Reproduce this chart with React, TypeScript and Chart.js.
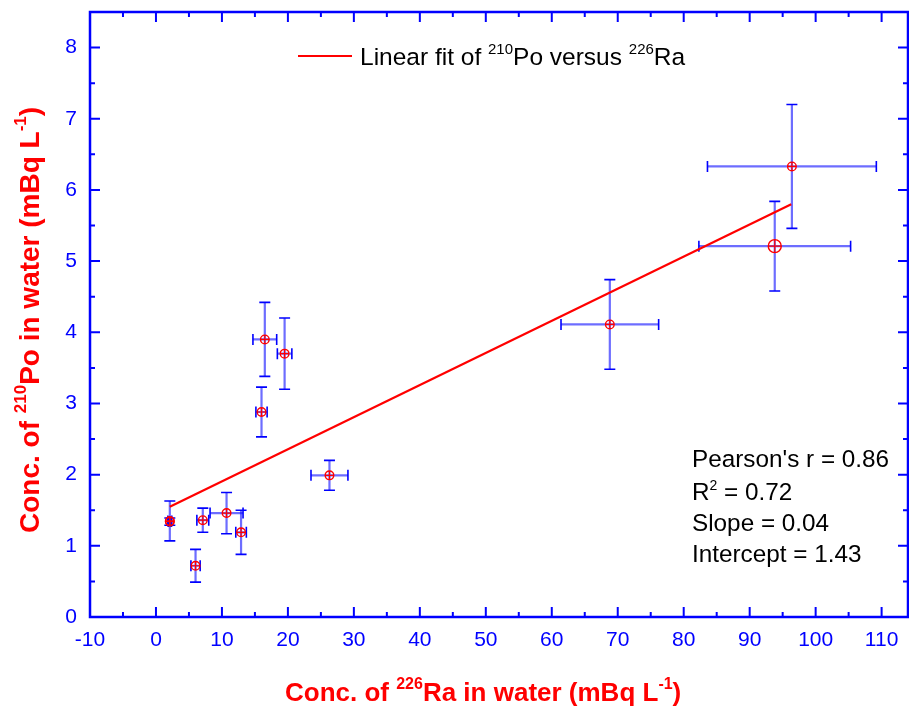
import { useEffect, useRef } from "react";
import { Chart, registerables } from "chart.js";

Chart.register(...registerables);

// ---- data ----
const raConc = [2.1, 2.1, 6.0, 7.1, 10.7, 12.9, 16.0, 16.5, 19.5, 26.3, 68.8, 93.8, 96.4];
const poConc = [1.35, 1.34, 0.72, 1.36, 1.46, 1.19, 2.88, 3.9, 3.7, 1.99, 4.11, 5.21, 6.33];
const raErr = [0.3, 0.2, 0.7, 0.9, 2.5, 0.8, 0.85, 1.8, 1.1, 2.8, 7.4, 11.5, 12.8];
const poErr = [0.28, 0.05, 0.23, 0.17, 0.29, 0.31, 0.35, 0.52, 0.5, 0.21, 0.63, 0.63, 0.87];
const markerRadius = [4.3, 4.3, 4.3, 4.3, 4.3, 4.3, 4.3, 4.3, 4.3, 4.3, 4.3, 6.5, 4.3];
const fitRa = [2.1, 96.3];
const fitPo = [1.55, 5.8];
const xTickValues = [-10, 0, 10, 20, 30, 40, 50, 60, 70, 80, 90, 100, 110];
const yTickValues = [0, 1, 2, 3, 4, 5, 6, 7, 8];
const xMinorValues = [-5, 5, 15, 25, 35, 45, 55, 65, 75, 85, 95, 105];
const yMinorValues = [0.5, 1.5, 2.5, 3.5, 4.5, 5.5, 6.5, 7.5];

type Part = { t: string; sup?: boolean };
const legendText: Part[] = [
  { t: "Linear fit of " }, { t: "210", sup: true }, { t: "Po versus " }, { t: "226", sup: true }, { t: "Ra" },
];
const xTitle: Part[] = [
  { t: "Conc. of " }, { t: "226", sup: true }, { t: "Ra in water (mBq L" }, { t: "-1", sup: true }, { t: ")" },
];
const yTitle: Part[] = [
  { t: "Conc. of " }, { t: "210", sup: true }, { t: "Po in water (mBq L" }, { t: "-1", sup: true }, { t: ")" },
];
const statLines: Part[][] = [
  [{ t: "Pearson's r = 0.86" }],
  [{ t: "R" }, { t: "2", sup: true }, { t: " = 0.72" }],
  [{ t: "Slope = 0.04" }],
  [{ t: "Intercept = 1.43" }],
];

const FONT = "'Liberation Sans', Arial, sans-serif";
const BLUE = "#0000ff";

function drawRich(
  ctx: CanvasRenderingContext2D, parts: Part[], x: number, y: number,
  font: string, supFont: string, supRise: number, color: string
) {
  ctx.fillStyle = color;
  ctx.textBaseline = "alphabetic";
  ctx.textAlign = "left";
  let cx = x;
  for (const p of parts) {
    ctx.font = p.sup ? supFont : font;
    ctx.fillText(p.t, cx, p.sup ? y - supRise : y);
    cx += ctx.measureText(p.t).width;
  }
}

const decor = {
  id: "decor",
  beforeDatasetsDraw(chart: any) {
    const ctx: CanvasRenderingContext2D = chart.ctx;
    const xs = chart.scales.x;
    const ys = chart.scales.y;
    ctx.save();
    for (let i = 0; i < raConc.length; i++) {
      const px = xs.getPixelForValue(raConc[i]);
      const py = ys.getPixelForValue(poConc[i]);
      const x1 = xs.getPixelForValue(raConc[i] - raErr[i]);
      const x2 = xs.getPixelForValue(raConc[i] + raErr[i]);
      const y1 = ys.getPixelForValue(poConc[i] - poErr[i]);
      const y2 = ys.getPixelForValue(poConc[i] + poErr[i]);
      ctx.strokeStyle = "rgba(20,20,255,0.62)";
      ctx.lineWidth = 2.2;
      ctx.beginPath();
      ctx.moveTo(x1, py); ctx.lineTo(x2, py);
      ctx.moveTo(px, y1); ctx.lineTo(px, y2);
      ctx.stroke();
      ctx.strokeStyle = BLUE;
      ctx.lineWidth = 1.6;
      const c = 5.5;
      ctx.beginPath();
      ctx.moveTo(x1, py - c); ctx.lineTo(x1, py + c);
      ctx.moveTo(x2, py - c); ctx.lineTo(x2, py + c);
      ctx.moveTo(px - c, y1); ctx.lineTo(px + c, y1);
      ctx.moveTo(px - c, y2); ctx.lineTo(px + c, y2);
      ctx.stroke();
    }
    ctx.restore();
  },
  afterDraw(chart: any) {
    const ctx: CanvasRenderingContext2D = chart.ctx;
    const xs = chart.scales.x;
    const ys = chart.scales.y;
    const a = chart.chartArea;
    ctx.save();
    // frame
    ctx.strokeStyle = BLUE;
    ctx.lineWidth = 2.5;
    ctx.strokeRect(a.left, a.top, a.right - a.left, a.bottom - a.top);
    ctx.lineWidth = 2;
    ctx.beginPath();
    const major = 10, minor = 5;
    for (const v of xTickValues) {
      const p = xs.getPixelForValue(v);
      ctx.moveTo(p, a.bottom); ctx.lineTo(p, a.bottom - major);
      ctx.moveTo(p, a.top); ctx.lineTo(p, a.top + major);
    }
    for (const v of xMinorValues) {
      const p = xs.getPixelForValue(v);
      ctx.moveTo(p, a.bottom); ctx.lineTo(p, a.bottom - minor);
      ctx.moveTo(p, a.top); ctx.lineTo(p, a.top + minor);
    }
    for (const v of yTickValues) {
      const p = ys.getPixelForValue(v);
      ctx.moveTo(a.left, p); ctx.lineTo(a.left + major, p);
      ctx.moveTo(a.right, p); ctx.lineTo(a.right - major, p);
    }
    for (const v of yMinorValues) {
      const p = ys.getPixelForValue(v);
      ctx.moveTo(a.left, p); ctx.lineTo(a.left + minor, p);
      ctx.moveTo(a.right, p); ctx.lineTo(a.right - minor, p);
    }
    ctx.stroke();

    // legend
    ctx.strokeStyle = "#ff0000";
    ctx.lineWidth = 2;
    ctx.beginPath();
    ctx.moveTo(298, 56); ctx.lineTo(352, 56);
    ctx.stroke();
    drawRich(ctx, legendText, 360, 65, `24.5px ${FONT}`, `15px ${FONT}`, 11, "#000");

    // stats
    const statY = [467, 500, 531, 562];
    statLines.forEach((ln, i) => {
      drawRich(ctx, ln, 692, statY[i], `24.3px ${FONT}`, `14px ${FONT}`, 10, "#000");
    });

    // x title
    drawRich(ctx, xTitle, 285, 701, `bold 26px ${FONT}`, `bold 16px ${FONT}`, 12, "#ff0000");

    // y title
    ctx.translate(38.5, 533);
    ctx.rotate(-Math.PI / 2);
    drawRich(ctx, yTitle, 0, 0, `bold 28px ${FONT}`, `bold 17px ${FONT}`, 13, "#ff0000");
    ctx.restore();
  },
};

export default function App() {
  const ref = useRef<HTMLCanvasElement | null>(null);
  useEffect(() => {
    document.body.style.margin = "0";
    const canvas = ref.current!;
    const pts = raConc.map((x, i) => ({ x, y: poConc[i] }));
    const chart = new Chart(canvas, {
      type: "scatter",
      data: {
        datasets: [
          {
            type: "line",
            data: fitRa.map((x, i) => ({ x, y: fitPo[i] })),
            borderColor: "#ff0000",
            borderWidth: 2.2,
            pointRadius: 0,
            fill: false,
            order: 3,
          } as any,
          {
            data: pts,
            pointStyle: "circle",
            pointRadius: markerRadius,
            borderColor: "#ff0000",
            backgroundColor: "rgba(0,0,0,0)",
            pointBorderWidth: 1.4,
            order: 1,
          } as any,
          {
            data: pts,
            pointStyle: "cross",
            pointRadius: markerRadius,
            borderColor: "#ff0000",
            pointBorderWidth: 1.2,
            order: 0,
          } as any,
        ],
      },
      options: {
        animation: false,
        responsive: true,
        maintainAspectRatio: false,
        layout: { autoPadding: false, padding: { top: 12, right: 1, left: 0, bottom: 0 } },
        plugins: { legend: { display: false }, tooltip: { enabled: false } },
        scales: {
          x: {
            type: "linear",
            min: -10,
            max: 114,
            grid: { display: false, drawTicks: false },
            border: { display: false },
            afterFit: (s: any) => { s.height = 89; s.paddingLeft = 0; s.paddingRight = 0; },
            afterBuildTicks: (s: any) => { s.ticks = xTickValues.map((v) => ({ value: v })); },
            ticks: { color: BLUE, font: { family: FONT, size: 21 }, padding: 11, maxRotation: 0, autoSkip: false },
          },
          y: {
            type: "linear",
            min: 0,
            max: 8.5,
            grid: { display: false, drawTicks: false },
            border: { display: false },
            afterFit: (s: any) => { s.width = 90; s.paddingTop = 0; s.paddingBottom = 0; },
            afterBuildTicks: (s: any) => { s.ticks = yTickValues.map((v) => ({ value: v })); },
            ticks: { color: BLUE, font: { family: FONT, size: 21 }, padding: 13, autoSkip: false },
          },
        },
      } as any,
      plugins: [decor],
    });
    return () => chart.destroy();
  }, []);
  return (
    <div style={{ position: "relative", width: 909, height: 706 }}>
      <canvas ref={ref} />
    </div>
  );
}
